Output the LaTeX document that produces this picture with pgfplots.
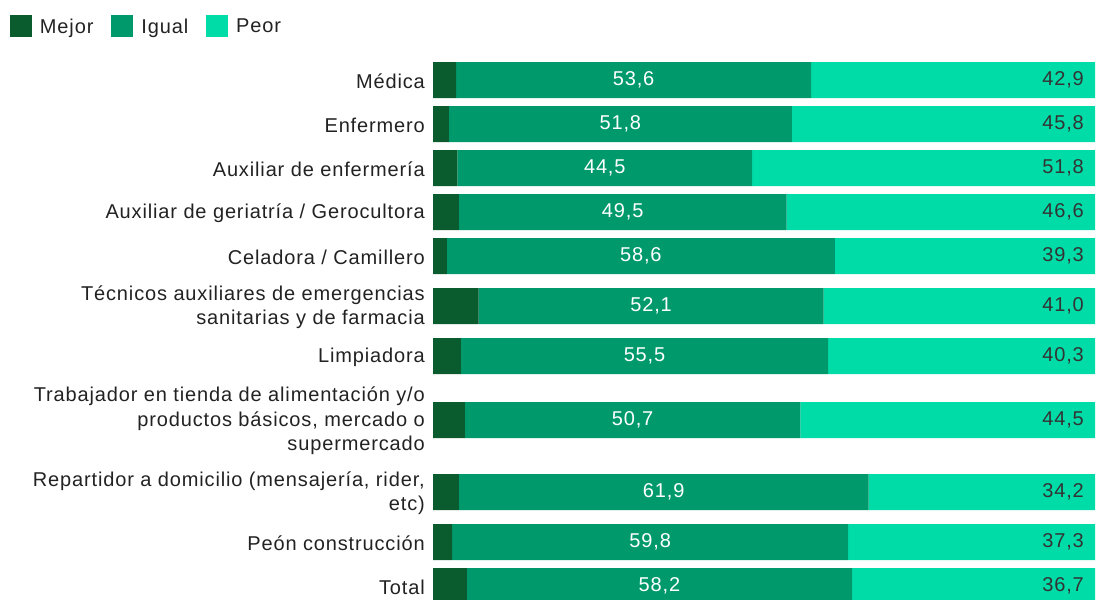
\documentclass[border=0pt]{standalone}
\usepackage{fontspec}
\setmainfont[LetterSpace=4.3]{Liberation Sans}
\usepackage{pgfplots}
\pgfplotsset{compat=1.18}
\usepackage{pgfplotstable}
\definecolor{mejor}{HTML}{0A5C2F}
\definecolor{igual}{HTML}{00996B}
\definecolor{peor}{HTML}{00DCA8}
\definecolor{txt}{HTML}{222222}
\definecolor{num}{HTML}{333333}
\newcommand{\lab}{\fontsize{20}{24.5}\selectfont}

\pgfplotstableread{
y   mejor igual peor
80  3.5   53.6  42.9
124 2.4   51.8  45.8
168 3.7   44.5  51.8
212 3.9   49.5  46.6
256 2.1   58.6  39.3
306 6.9   52.1  41.0
356 4.2   55.5  40.3
420 4.8   50.7  44.5
492 3.9   61.9  34.2
542 2.9   59.8  37.3
586 5.1   58.2  36.7
}\datatab

\pgfplotsset{
  common/.style={
    scale only axis, width=662pt, height=599pt,
    xmin=0, xmax=100, ymin=0, ymax=599, y dir=reverse,
    at={(433pt,0pt)}, anchor=north west, clip=false,
    axis line style={draw=none}, major tick length=0pt,
    xtick=\empty,
    /pgf/number format/.cd, use comma, fixed, fixed zerofill, precision=1, assume math mode=true,
  }
}

\begin{document}
\begin{tikzpicture}
\path[use as bounding box] (0pt,0pt) rectangle (1099pt,-599pt);
\begin{axis}[common,
  xbar stacked, bar width=36pt,
  ytick={80,124,168,212,256,306,356,420,492,542,586},
  yticklabels={Médica, Enfermero, Auxiliar de enfermería, Auxiliar de geriatría / Gerocultora, Celadora / Camillero,
    {Técnicos auxiliares de emergencias\\sanitarias y de farmacia}, Limpiadora,
    {Trabajador en tienda de alimentación y/o\\productos básicos, mercado o\\supermercado},
    {Repartidor a domicilio (mensajería, rider,\\etc)}, Peón construcción, Total},
  yticklabel style={align=right, font=\lab, text=txt, inner sep=0pt, xshift=-8pt, yshift=-1pt},
  legend image code/.code={\fill[#1] (0pt,-11pt) rectangle (22pt,11pt);},
  legend style={draw=none, fill=none, at={(-0.639,0.975)}, anchor=north west,
    legend columns=3, font=\lab, text=txt, inner sep=0pt, outer sep=0pt,
    /tikz/every odd column/.append style={column sep=8pt},
    /tikz/every even column/.append style={column sep=18pt},
    nodes={inner sep=0pt, text depth=0pt}},
]
\addplot[fill=mejor, draw=none] table[x=mejor, y=y] {\datatab};
\addplot[fill=igual, draw=none] table[x=igual, y=y] {\datatab};
\addplot[fill=peor, draw=none] table[x=peor, y=y] {\datatab};
\legend{Mejor, Igual, Peor}
\end{axis}
\begin{axis}[common, ytick=\empty]
\addplot[draw=none, nodes near coords, point meta=explicit,
  every node near coord/.style={anchor=center, text=white, font=\lab}]
  table[x expr=\thisrow{mejor}+\thisrow{igual}/2, y=y, meta=igual] {\datatab};
\addplot[draw=none, nodes near coords, point meta=explicit,
  every node near coord/.style={anchor=east, text=num, font=\lab, inner sep=0pt, xshift=-11pt}]
  table[x expr=100, y=y, meta=peor] {\datatab};
\end{axis}
\end{tikzpicture}
\end{document}
